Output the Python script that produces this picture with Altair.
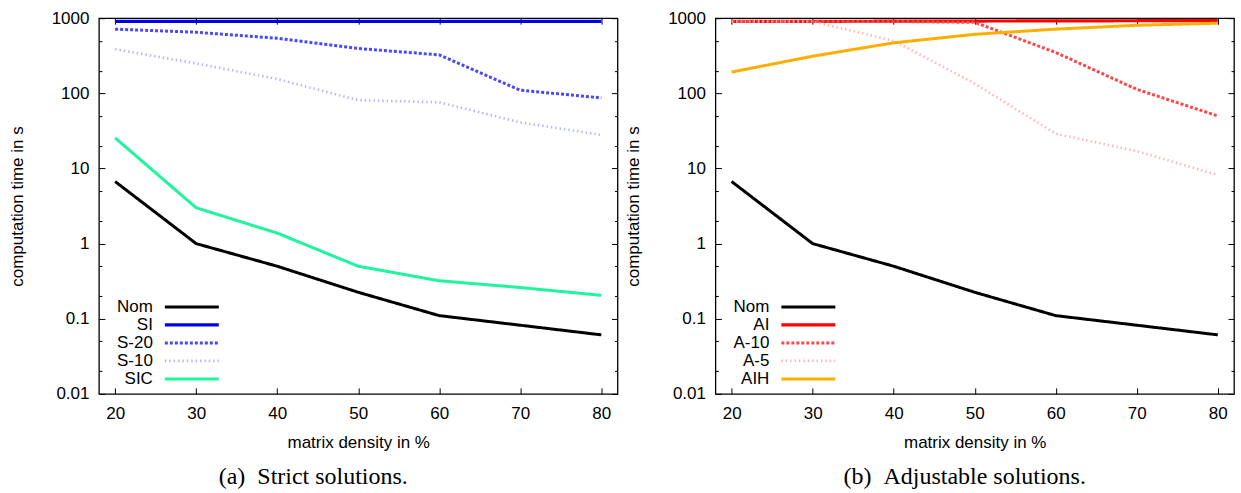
import altair as alt
import pandas as pd

# ---------------- data ----------------
density = [20, 30, 40, 50, 60, 70, 80]

nom = [6.7, 1.0, 0.50, 0.225, 0.11, 0.082, 0.061]
si = [905, 905, 905, 905, 905, 905, 905]
s20 = [715, 650, 540, 395, 325, 110, 87]
s10 = [385, 250, 155, 81, 76, 41, 28]
sic = [25.5, 3.0, 1.38, 0.50, 0.32, 0.26, 0.205]

ai = [905, 908, 912, 916, 920, 925, 930]
a10 = [905, 905, 905, 880, 350, 113, 50]
a5 = [905, 905, 500, 135, 29, 17, 8.2]
aih = [192, 312, 470, 610, 715, 805, 858]

strict_names = ["Nom", "SI", "S-20", "S-10", "SIC"]
strict_values = [nom, si, s20, s10, sic]
adjust_names = ["Nom", "AI", "A-10", "A-5", "AIH"]
adjust_values = [nom, ai, a10, a5, aih]

y_major = [0.01, 0.1, 1, 10, 100, 1000]
y_minor = [0.02, 0.05, 0.2, 0.5, 2, 5, 20, 50, 200, 500]
x_ticks = [20, 30, 40, 50, 60, 70, 80]

# ---------------- styles ----------------
styles = {
    "Nom": dict(color="#000000", dash=[1, 0], width=3),
    "SI": dict(color="#0000f0", dash=[1, 0], width=3.2),
    "S-20": dict(color="#4848ff", dash=[3, 2], width=3),
    "S-10": dict(color="#b4b4ff", dash=[1.4, 3], width=2.6),
    "SIC": dict(color="#1ef59c", dash=[1, 0], width=3),
    "AI": dict(color="#ff0000", dash=[1, 0], width=3.2),
    "A-10": dict(color="#ff4545", dash=[3, 2], width=3),
    "A-5": dict(color="#ffb4b4", dash=[1.4, 3], width=2.6),
    "AIH": dict(color="#ffad00", dash=[1, 0], width=3),
}

FONT = "Liberation Sans"
W, H = 519, 376

xs = alt.Scale(domain=[18, 82], nice=False, zero=False)
ys = alt.Scale(type="log", domain=[0.01, 1000], nice=False)


def long_df(names, values):
    rows = []
    for n, vals in zip(names, values):
        for x, v in zip(density, vals):
            rows.append({"series": n, "x": x, "y": v})
    return pd.DataFrame(rows)


def panel(names, values, caption, cap_dx):
    df = long_df(names, values)
    base = alt.Chart(df)
    x_none = alt.X("x:Q", scale=xs, axis=None)
    y_none = alt.Y("y:Q", scale=ys, axis=None)

    layers = []
    # main axes (bottom/left) with inward ticks
    x_main = alt.X(
        "x:Q", scale=xs,
        axis=alt.Axis(orient="bottom", values=x_ticks, offset=-6, tickSize=6,
                      domain=False, grid=False, labelPadding=12, format="d",
                      title="matrix density in %", titlePadding=13),
    )
    y_main = alt.Y(
        "y:Q", scale=ys,
        axis=alt.Axis(orient="left", values=y_major, offset=-6, tickSize=6,
                      domain=False, grid=False, labelPadding=10, format="~g",
                      title="computation time in s", titlePadding=25),
    )
    first = names[0]
    layers.append(
        base.transform_filter(alt.datum.series == first)
        .mark_line(strokeOpacity=0)
        .encode(x=x_main, y=y_main)
    )
    # mirrored ticks top
    layers.append(
        base.transform_filter(alt.datum.series == first)
        .mark_line(strokeOpacity=0)
        .encode(
            x=alt.X("x:Q", scale=xs, title=None,
                    axis=alt.Axis(orient="top", values=x_ticks, offset=-6, tickSize=6,
                                  domain=False, grid=False, labels=False)),
            y=y_none,
        )
    )
    # mirrored ticks right (major)
    layers.append(
        base.transform_filter(alt.datum.series == first)
        .mark_line(strokeOpacity=0)
        .encode(
            x=x_none,
            y=alt.Y("y:Q", scale=ys, title=None,
                    axis=alt.Axis(orient="right", values=y_major, offset=-6, tickSize=6,
                                  domain=False, grid=False, labels=False)),
        )
    )
    # minor ticks left
    layers.append(
        base.transform_filter(alt.datum.series == first)
        .mark_line(strokeOpacity=0)
        .encode(
            x=x_none,
            y=alt.Y("y:Q", scale=ys, title=None,
                    axis=alt.Axis(orient="left", values=y_minor, offset=-3, tickSize=3,
                                  domain=False, grid=False, labels=False)),
        )
    )
    # minor ticks right
    layers.append(
        base.transform_filter(alt.datum.series == first)
        .mark_line(strokeOpacity=0)
        .encode(
            x=x_none,
            y=alt.Y("y:Q", scale=ys, title=None,
                    axis=alt.Axis(orient="right", values=y_minor, offset=-3, tickSize=3,
                                  domain=False, grid=False, labels=False)),
        )
    )

    # data lines
    for n in names:
        st = styles[n]
        layers.append(
            base.transform_filter(alt.datum.series == n)
            .mark_line(color=st["color"], strokeDash=st["dash"], strokeWidth=st["width"],
                       strokeCap="butt", strokeJoin="miter", clip=True)
            .encode(x=x_none, y=y_none)
        )

    # legend (lower left, labels right-aligned before the line samples)
    for i, n in enumerate(names):
        st = styles[n]
        ly = 289 + 18 * i
        layers.append(
            alt.Chart(pd.DataFrame({"label": [n]}))
            .mark_text(align="right", baseline="middle", font=FONT, fontSize=17, color="#000000")
            .encode(text="label:N", x=alt.value(54), y=alt.value(ly))
        )
        layers.append(
            alt.Chart(pd.DataFrame({"label": [n]}))
            .mark_rule(color=st["color"], strokeDash=st["dash"], strokeWidth=st["width"],
                       strokeCap="butt")
            .encode(x=alt.value(66), x2=alt.value(120), y=alt.value(ly))
        )

    return (
        alt.layer(*layers)
        .resolve_axis(x="independent", y="independent")
        .properties(
            width=W, height=H,
            title=alt.TitleParams(caption, orient="bottom", anchor="middle",
                                  font="Liberation Serif", fontSize=24, fontWeight="normal",
                                  color="#000000", offset=14, dx=cap_dx),
        )
    )


left = panel(strict_names, strict_values, "(a)\u2002Strict solutions.", -45)
right = panel(adjust_names, adjust_values, "(b)\u2002Adjustable solutions.", -10)

chart = (
    alt.hconcat(left, right, spacing=4)
    .properties(padding={"left": 7, "top": 8, "right": 5, "bottom": 0}, background="white")
    .configure_view(stroke="#000000", strokeWidth=1.3)
    .configure_axis(
        labelFont=FONT, labelFontSize=17, labelColor="#000000",
        titleFont=FONT, titleFontSize=17, titleFontWeight="normal", titleColor="#000000",
        tickColor="#000000", tickWidth=1,
    )
)

chart.save("out.html", embed_options={"renderer": "svg", "actions": False})
